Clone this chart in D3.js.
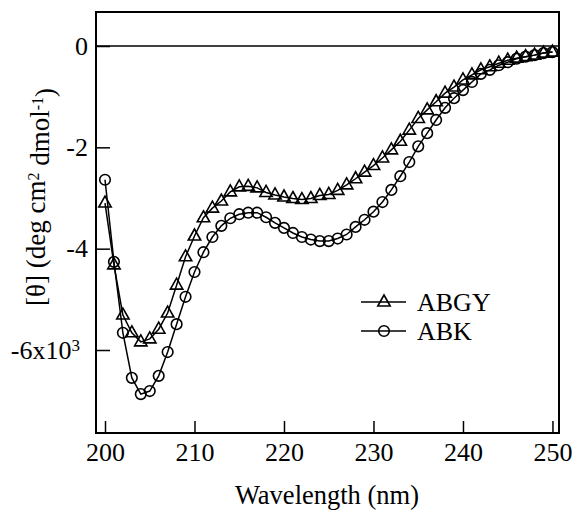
<!DOCTYPE html>
<html><head><meta charset="utf-8">
<script src="https://cdn.jsdelivr.net/npm/d3@7"></script>
<style>
body {
    margin: 0;
    background: #fff;
}

.series {
    fill: none;
    stroke: #000;
    stroke-width: 1.5px;
}

.marker {
    fill: none;
    stroke: #000;
    stroke-width: 1.6px;
}
</style></head><body>
<svg id="chart" width="572" height="510"></svg>

<script>
// wavelength, nm (1 nm steps)
const wavelengths = d3.range(200, 251);

const abgy = [
    -3.10, -4.32, -5.31, -5.66, -5.84, -5.78, -5.59, -5.27, -4.72, -4.16,
    -3.75, -3.39, -3.20, -3.06, -2.88, -2.78, -2.77, -2.80, -2.89, -2.94,
    -2.98, -3.01, -3.03, -3.01, -2.95, -2.93, -2.85, -2.74, -2.62, -2.49,
    -2.36, -2.21, -2.05, -1.88, -1.66, -1.43, -1.26, -1.10, -0.93, -0.81,
    -0.67, -0.57, -0.47, -0.41, -0.34, -0.28, -0.24, -0.21, -0.18, -0.14,
    -0.12
];

const abk = [
    -2.64, -4.26, -5.66, -6.55, -6.87, -6.81, -6.51, -6.04, -5.49, -4.95,
    -4.46, -4.07, -3.77, -3.55, -3.40, -3.32, -3.29, -3.29, -3.38, -3.49,
    -3.59, -3.69, -3.77, -3.82, -3.85, -3.85, -3.80, -3.72, -3.57, -3.43,
    -3.27, -3.08, -2.84, -2.57, -2.29, -1.98, -1.72, -1.46, -1.22, -1.03,
    -0.87, -0.71, -0.55, -0.47, -0.38, -0.32, -0.25, -0.21, -0.18, -0.14,
    -0.12
];

const xTicks = [200, 210, 220, 230, 240, 250];
const yTicks = [0, -2, -4, -6];
const seriesNames = ["ABGY", "ABK"];

const FONT = "'Liberation Serif', 'DejaVu Serif', 'Noto Serif', serif";

const svg = d3.select("#chart");
const plotL = 96, plotT = 12, plotR = 559, plotB = 433;

const x = d3.scaleLinear().domain([198.994, 250.73]).range([plotL, plotR]);
const y = d3.scaleLinear().domain([0.671, -7.638]).range([plotT, plotB]);

// x axis, ticks pointing in
svg.append("g")
    .attr("transform", `translate(0,${plotB})`)
    .call(d3.axisBottom(x).tickValues(xTicks).tickSize(-12).tickPadding(10))
    .call(g => g.select(".domain").remove())
    .call(g => g.selectAll("line").attr("stroke", "#000").attr("stroke-width", 1.5))
    .call(g => g.selectAll("text").attr("font-size", 26).style("font-family", FONT));

// y axis, plain hyphen for the minus sign
const yAxis = svg.append("g")
    .attr("transform", `translate(${plotL},0)`)
    .call(d3.axisLeft(y).tickValues(yTicks).tickSize(-14).tickPadding(8)
        .tickFormat(d => String(d)))
    .call(g => g.select(".domain").remove())
    .call(g => g.selectAll("line").attr("stroke", "#000").attr("stroke-width", 1.5))
    .call(g => g.selectAll("text").attr("font-size", 26).style("font-family", FONT));

// the -6 label carries the x10^3 factor
yAxis.selectAll(".tick text").filter(d => d === -6)
    .text(null)
    .attr("x", -16)
    .call(t => {
        t.append("tspan").text("-6x10");
        t.append("tspan").attr("dy", "-0.45em").attr("font-size", 17).text("3");
    });

// zero line
svg.append("line")
    .attr("x1", plotL).attr("x2", plotR)
    .attr("y1", y(0)).attr("y2", y(0))
    .attr("stroke", "#000").attr("stroke-width", 1.5);

// frame
svg.append("rect")
    .attr("x", plotL).attr("y", plotT)
    .attr("width", plotR - plotL).attr("height", plotB - plotT)
    .attr("fill", "none").attr("stroke", "#000").attr("stroke-width", 2);

const triPath = "M0,-7L6.2,4L-6.2,4Z";

function drawSeries(values, shape) {
    const pts = wavelengths.map((w, i) => [w, values[i]]);
    svg.append("path")
        .attr("class", "series")
        .attr("d", d3.line().x(d => x(d[0])).y(d => y(d[1]))(pts));

    const g = svg.append("g");
    if (shape === "triangle") {
        g.selectAll("path").data(pts).enter().append("path")
            .attr("class", "marker")
            .attr("d", triPath)
            .attr("transform", d => `translate(${x(d[0])},${y(d[1])})`);
    } else {
        g.selectAll("circle").data(pts).enter().append("circle")
            .attr("class", "marker")
            .attr("r", 5.3)
            .attr("cx", d => x(d[0]))
            .attr("cy", d => y(d[1]));
    }
}

drawSeries(abk, "circle");
drawSeries(abgy, "triangle");

// legend
const legend = svg.append("g");
seriesNames.forEach((name, i) => {
    const ly = 302 + i * 29;
    legend.append("line")
        .attr("x1", 361).attr("x2", 406)
        .attr("y1", ly).attr("y2", ly)
        .attr("stroke", "#000").attr("stroke-width", 1.5);
    if (i === 0) {
        legend.append("path").attr("class", "marker")
            .attr("d", triPath)
            .attr("transform", `translate(384,${ly})`);
    } else {
        legend.append("circle").attr("class", "marker")
            .attr("r", 5.3).attr("cx", 384).attr("cy", ly);
    }
    legend.append("text")
        .attr("x", 417).attr("y", ly + 9)
        .style("font-family", FONT)
        .attr("font-size", 26)
        .text(name);
});

// axis titles
svg.append("text")
    .attr("x", 327).attr("y", 504)
    .attr("text-anchor", "middle")
    .style("font-family", FONT)
    .attr("font-size", 26.5)
    .text("Wavelength (nm)");

const yt = svg.append("text")
    .attr("transform", "translate(45,197) rotate(-90)")
    .attr("text-anchor", "middle")
    .style("font-family", FONT)
    .attr("font-size", 27);
yt.append("tspan").text("[θ] (deg cm");
yt.append("tspan").attr("dy", "-0.4em").attr("font-size", 16).text("2");
yt.append("tspan").attr("dy", "0.4em").text(" dmol");
yt.append("tspan").attr("dy", "-0.4em").attr("font-size", 16).text("-1");
yt.append("tspan").attr("dy", "0.4em").text(")");
</script></body></html>
